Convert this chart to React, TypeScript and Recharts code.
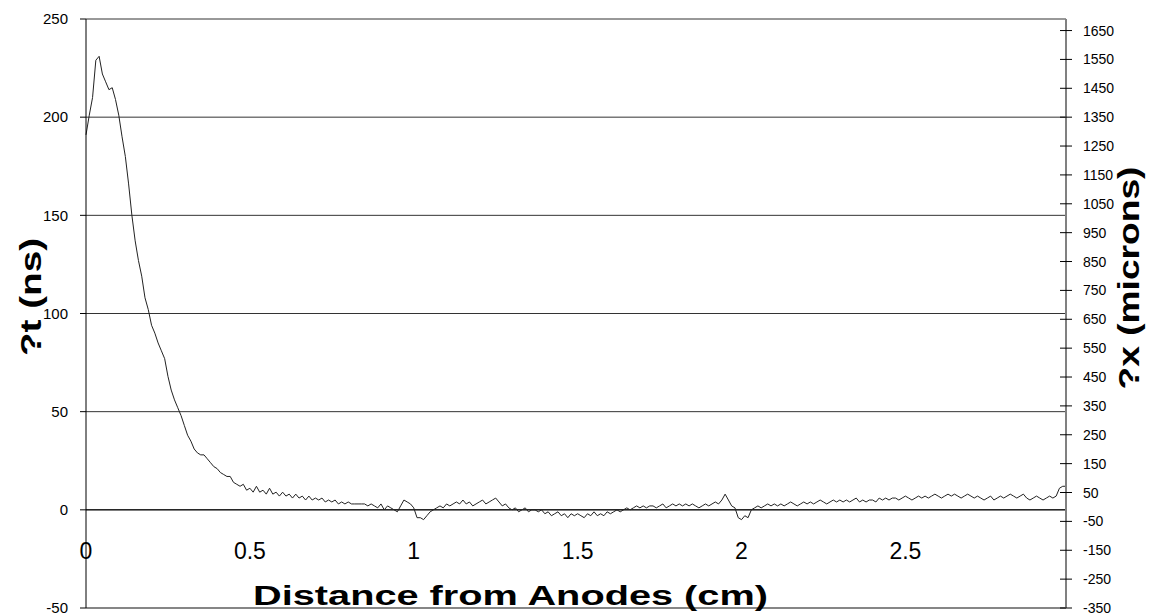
import React from 'react';
import { LineChart, Line, XAxis, YAxis, CartesianGrid, ReferenceLine, Label } from 'recharts';

// sample spacing along the anode distance (cm)
const STEP_CM = 0.01;

// ?t (ns), one value per 0.01 cm starting at 0
const deltaT = [
  191, 201, 210, 229, 231, 222, 218, 214, 215, 209,
  201, 190, 180, 166, 150, 137, 127, 119, 108, 102,
  94, 90, 85, 81, 77, 68, 61, 56, 52, 48,
  43, 38, 35, 31, 29, 28, 28, 26, 24, 22,
  21, 19, 18, 17, 17, 14, 13, 12, 13, 10,
  11, 9, 12, 9, 10, 8, 11, 8, 9, 7,
  9, 7, 8, 6, 8, 6, 7, 5, 7, 5,
  6, 5, 6, 4, 5, 4, 5, 3, 4, 3,
  4, 3, 3, 3, 3, 3, 2, 3, 2, 1,
  3, 0, 2, 1, 0, -1, 2, 5, 4, 3,
  1, -4, -4, -5, -3, -1, 0, 1, 2, 1,
  3, 2, 3, 4, 3, 5, 3, 4, 2, 3,
  4, 5, 3, 4, 5, 6, 4, 2, 3, 1,
  0, 1, -1, 0, 1, -1, 0, 0, -1, 0,
  -2, -1, -3, -2, -1, -3, -2, -4, -2, -3,
  -2, -3, -4, -2, -3, -1, -3, -2, -3, -1,
  -2, -1, 0, -1, 0, 1, 0, 1, 2, 1,
  2, 1, 2, 2, 1, 2, 3, 1, 2, 3,
  2, 3, 2, 3, 2, 3, 2, 1, 2, 3,
  2, 3, 4, 3, 5, 8, 5, 2, 1, -4,
  -5, -3, -4, 0, 1, 2, 1, 2, 3, 2,
  3, 2, 3, 2, 3, 4, 3, 2, 3, 4,
  3, 4, 3, 4, 5, 4, 3, 4, 5, 4,
  5, 4, 5, 4, 5, 6, 4, 5, 4, 5,
  5, 4, 6, 5, 6, 5, 6, 6, 5, 6,
  7, 6, 5, 6, 7, 6, 7, 6, 7, 8,
  7, 6, 7, 8, 7, 8, 7, 6, 7, 8,
  7, 6, 7, 6, 5, 6, 7, 5, 6, 7,
  6, 7, 8, 7, 6, 7, 8, 6, 5, 6,
  7, 6, 5, 6, 7, 6, 7, 11, 12, 12,
];

const xTicks = [0, 0.5, 1, 1.5, 2, 2.5];
const tTicks = [-50, 0, 50, 100, 150, 200, 250];
const micronTicks = [
  -350, -250, -150, -50, 50, 150, 250, 350, 450, 550, 650,
  750, 850, 950, 1050, 1150, 1250, 1350, 1450, 1550, 1650,
];

const data = deltaT.map((t, i) => ({ x: Number((i * STEP_CM).toFixed(2)), t }));

const FONT = '"Liberation Sans", Arial, sans-serif';

function XTick(props: any) {
  const { x, y, payload } = props;
  return (
    <text x={x} y={y - 49} textAnchor="middle" fontSize={23} fontFamily={FONT} fill="#000">
      {payload.value}
    </text>
  );
}

function MicronTick(props: any) {
  const { x, y, payload } = props;
  return (
    <g>
      <line x1={x - 6} x2={x + 6} y1={y} y2={y} stroke="#000" />
      <text x={x + 17} y={y + 5} fontSize={14} fontFamily={FONT} fill="#000">
        {payload.value}
      </text>
    </g>
  );
}

// rotated bold axis title, stretched along its length like the original
function SideTitle({ cx, cy, len, text }: { cx: number; cy: number; len: number; text: string }) {
  return (
    <text
      x={-len / 2}
      y={0}
      transform={`translate(${cx} ${cy}) rotate(-90)`}
      fontSize={30}
      fontWeight="bold"
      fontFamily={FONT}
      textLength={len}
      lengthAdjust="spacingAndGlyphs"
      fill="#000"
    >
      {text}
    </text>
  );
}

export default function App() {
  return (
    <div style={{ position: 'absolute', left: 0, top: 0, width: 1150, height: 615, background: '#fff' }}>
      <LineChart width={1150} height={615} data={data} margin={{ top: 19, right: 0, bottom: 0, left: 0 }}>
        <CartesianGrid yAxisId="left" vertical={false} stroke="#333" />
        <XAxis
          dataKey="x"
          type="number"
          domain={[0, 2.99]}
          ticks={xTicks}
          interval={0}
          height={7}
          tickSize={0}
          tickMargin={0}
          tickLine={false}
          axisLine={{ stroke: '#808080', strokeWidth: 1.5 }}
          tick={<XTick />}
        >
          <Label
            content={() => (
              <text
                x={253}
                y={605}
                fontSize={27}
                fontWeight="bold"
                fontFamily={FONT}
                textLength={515}
                lengthAdjust="spacingAndGlyphs"
                fill="#000"
              >
                Distance from Anodes (cm)
              </text>
            )}
          />
        </XAxis>
        <YAxis
          yAxisId="left"
          width={86}
          domain={[-50, 250]}
          ticks={tTicks}
          interval={0}
          allowDataOverflow
          tickSize={6}
          tickMargin={12}
          axisLine={{ stroke: '#000' }}
          tickLine={{ stroke: '#000' }}
          tick={{ fontSize: 15, fontFamily: FONT, fill: '#000' }}
        >
          <Label content={() => <SideTitle cx={41} cy={297} len={118} text="?t (ns)" />} />
        </YAxis>
        <YAxis
          yAxisId="right"
          orientation="right"
          width={84}
          domain={[-350, 1690]}
          ticks={micronTicks}
          interval={0}
          allowDataOverflow
          tickSize={0}
          tickMargin={0}
          tickLine={false}
          axisLine={{ stroke: '#808080', strokeWidth: 2 }}
          tick={<MicronTick />}
        >
          <Label content={() => <SideTitle cx={1139} cy={278} len={223} text="?x (microns)" />} />
        </YAxis>
        <ReferenceLine yAxisId="left" y={0} stroke="#000" />
        <Line
          yAxisId="left"
          type="linear"
          dataKey="t"
          stroke="#222"
          strokeWidth={1}
          dot={false}
          isAnimationActive={false}
        />
      </LineChart>
    </div>
  );
}
